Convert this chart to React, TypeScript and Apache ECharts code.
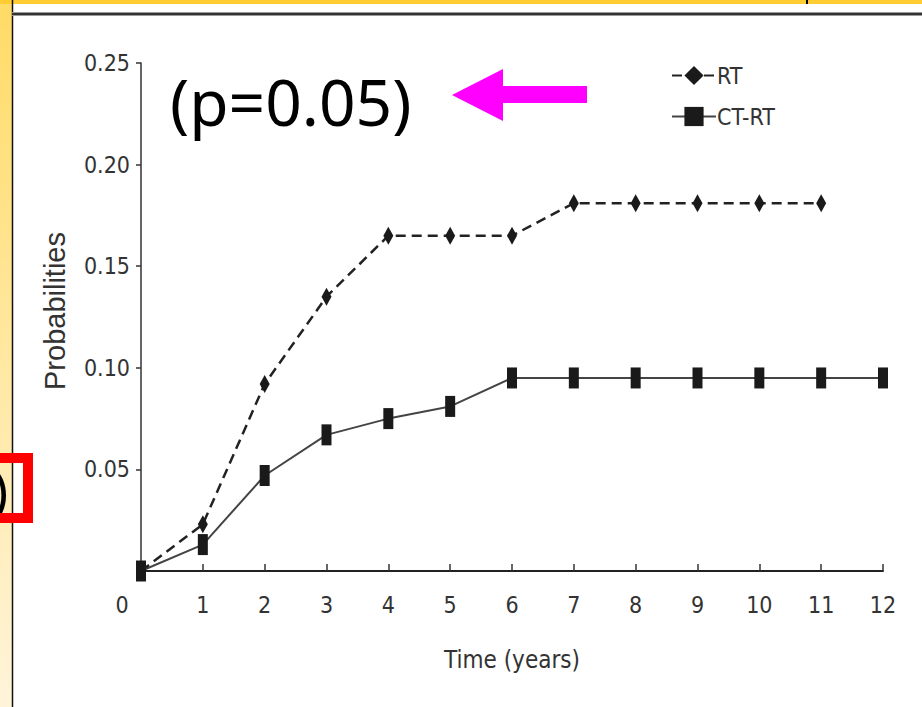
import React, { useEffect, useRef } from "react";
import * as echarts from "echarts";

const years = [0, 1, 2, 3, 4, 5, 6, 7, 8, 9, 10, 11, 12];
const rtValues = [0, 0.023, 0.092, 0.135, 0.165, 0.165, 0.165, 0.181, 0.181, 0.181, 0.181, 0.181];
const ctrtValues = [0, 0.013, 0.047, 0.067, 0.075, 0.081, 0.095, 0.095, 0.095, 0.095, 0.095, 0.095, 0.095];
const seriesNames = ["RT", "CT-RT"];
const annotation = "(p=0.05)";
const xAxisName = "Time (years)";
const yAxisName = "Probabilities";

const NARROW = "'Liberation Sans Narrow', 'DejaVu Sans Condensed', 'Liberation Sans', sans-serif";

export default function App() {
  const ref = useRef<HTMLDivElement>(null);
  useEffect(() => {
    if (!ref.current) return;
    const chart = echarts.init(ref.current, undefined, { renderer: "svg" });
    const rtData = rtValues.map((v, i) => [years[i], v]);
    const ctData = ctrtValues.map((v, i) => [years[i], v]);
    chart.setOption({
      animation: false,
      backgroundColor: "#ffffff",
      grid: { left: 141, right: 39, top: 63, bottom: 136, containLabel: false },
      legend: {
        orient: "vertical",
        left: 666,
        top: 59,
        itemWidth: 44,
        itemHeight: 24,
        itemGap: 18,
        data: seriesNames,
        textStyle: { fontFamily: NARROW, fontSize: 23, color: "#333", padding: [0, 0, 0, -4] },
      },
      xAxis: {
        type: "value",
        min: 0,
        max: 12,
        interval: 1,
        name: xAxisName,
        nameLocation: "middle",
        nameGap: 77,
        nameTextStyle: { fontFamily: NARROW, fontSize: 24, color: "#333" },
        axisLine: { lineStyle: { color: "#222", width: 2 } },
        axisTick: { inside: true, length: 7, lineStyle: { color: "#333", width: 1.5 } },
        axisLabel: {
          margin: 22,
          fontFamily: NARROW,
          fontSize: 23,
          color: "#333",
          formatter: (v: number) => (v === 0 ? "{z|0}" : String(v)),
          rich: { z: { fontFamily: NARROW, fontSize: 23, color: "#333", padding: [0, 38, 0, 0] } },
        },
        splitLine: { show: false },
      },
      yAxis: {
        type: "value",
        min: 0,
        max: 0.25,
        interval: 0.05,
        name: yAxisName,
        nameLocation: "middle",
        nameRotate: 90,
        nameGap: 72,
        nameTextStyle: { fontFamily: "'Liberation Sans', Arial, sans-serif", fontSize: 29, color: "#333", padding: [0, 0, 0, 12] },
        axisLine: { show: true, lineStyle: { color: "#333", width: 1.5 } },
        axisTick: { show: true, inside: false, length: 5, lineStyle: { color: "#333", width: 1.5 } },
        axisLabel: {
          margin: 11,
          fontFamily: NARROW,
          fontSize: 23,
          color: "#333",
          formatter: (v: number) => (v === 0 ? "" : v.toFixed(2)),
        },
        splitLine: { show: false },
      },
      series: [
        {
          name: seriesNames[0],
          type: "line",
          data: rtData,
          symbol: "diamond",
          symbolSize: [10, 18],
          itemStyle: { color: "#1a1a1a" },
          lineStyle: { color: "#222", width: 2.5, type: [10, 6] },
          z: 3,
        },
        {
          name: seriesNames[1],
          type: "line",
          data: ctData,
          symbol: "rect",
          symbolSize: [10, 21],
          itemStyle: { color: "#1a1a1a" },
          lineStyle: { color: "#444", width: 2 },
          z: 2,
        },
      ],
      graphic: [
        {
          type: "rect",
          shape: { x: 0, y: 0, width: 12, height: 707 },
          style: {
            fill: new echarts.graphic.LinearGradient(0, 0, 0, 1, [
              { offset: 0, color: "#ffdb66" },
              { offset: 1, color: "#fff4da" },
            ]),
          },
          z: 0,
        },
        { type: "rect", shape: { x: 0, y: 0, width: 922, height: 4 }, style: { fill: "#ffcc33" }, z: 0 },
        { type: "rect", shape: { x: 806, y: 0, width: 2, height: 4 }, style: { fill: "#000" }, z: 1 },
        { type: "line", shape: { x1: 12.5, y1: 0, x2: 12.5, y2: 707 }, style: { stroke: "#111", lineWidth: 1.5 }, z: 1 },
        { type: "rect", shape: { x: 12, y: 12, width: 910, height: 4 }, style: { fill: "#9a9a9a" }, z: 1 },
        { type: "rect", shape: { x: 12, y: 13, width: 910, height: 2 }, style: { fill: "#333" }, z: 1 },
        {
          type: "text",
          x: 8,
          y: 489,
          style: {
            text: ")",
            fontFamily: "'Noto Sans', sans-serif",
            fontSize: 52,
            fill: "#000",
            align: "right",
            verticalAlign: "middle",
          },
          z: 2,
        },
        {
          type: "rect",
          shape: { x: -20, y: 458, width: 48, height: 60 },
          style: { fill: "none", stroke: "#ff0000", lineWidth: 10 },
          z: 3,
        },
        {
          type: "text",
          x: 170,
          y: 101,
          style: {
            text: annotation,
            fontFamily: "'Noto Sans', sans-serif",
            fontSize: 64,
            fill: "#000",
            align: "left",
            verticalAlign: "middle",
          },
          z: 5,
        },
        {
          type: "polygon",
          shape: {
            points: [
              [452, 95],
              [503, 69],
              [503, 86],
              [587, 86],
              [587, 103],
              [503, 103],
              [503, 121],
            ],
          },
          style: { fill: "#ff00ff" },
          z: 5,
        },
      ],
    });
    return () => chart.dispose();
  }, []);
  return (
    <div
      ref={ref}
      style={{ position: "fixed", left: 0, top: 0, width: 922, height: 707, background: "#fff" }}
    />
  );
}
